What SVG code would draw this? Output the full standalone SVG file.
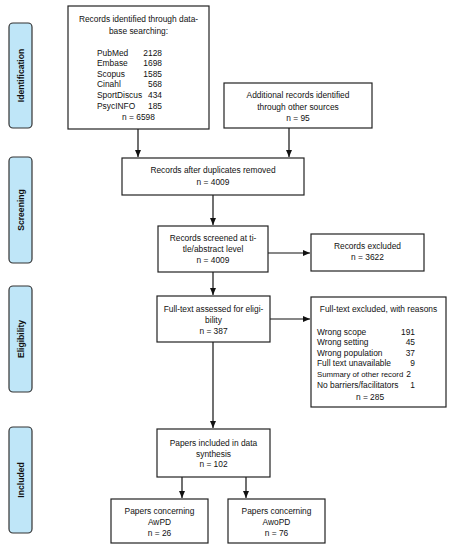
<svg xmlns="http://www.w3.org/2000/svg" width="450" height="550" viewBox="0 0 450 550">
<style>
.box{fill:#fff;stroke:#222;stroke-width:1.2}
.side{fill:#bfe6f8;stroke:#333;stroke-width:1.2}
text{font-family:"Liberation Sans",Arial,sans-serif;font-size:8.4px;fill:#111}
.c{text-anchor:middle}
.r{text-anchor:end}
.s{font-weight:bold;font-size:8.6px;text-anchor:middle}
.ln{stroke:#111;stroke-width:1.2;fill:none}
</style>
<defs>
<marker id="ah" markerWidth="8" markerHeight="8" refX="7" refY="4" orient="auto" markerUnits="userSpaceOnUse">
<path d="M0,1 L7,4 L0,7 Z" fill="#111"/>
</marker>
</defs>
<rect width="450" height="550" fill="#fff"/>
<g id="phase-identification"><rect class="side" x="9" y="23" width="23" height="105" rx="4"/><text class="s" transform="translate(23.5,75.5) rotate(-90)">Identification</text></g>
<g id="phase-screening"><rect class="side" x="9" y="157" width="23" height="106" rx="4"/><text class="s" transform="translate(23.5,210) rotate(-90)">Screening</text></g>
<g id="phase-eligibility"><rect class="side" x="9" y="286" width="23" height="106" rx="4"/><text class="s" transform="translate(23.5,339) rotate(-90)">Eligibility</text></g>
<g id="phase-included"><rect class="side" x="9" y="427" width="23" height="106" rx="4"/><text class="s" transform="translate(23.5,480) rotate(-90)">Included</text></g>

<g id="connectors">
<line class="ln" x1="138" y1="129" x2="138" y2="157" marker-end="url(#ah)"/>
<line class="ln" x1="289" y1="128" x2="289" y2="157" marker-end="url(#ah)"/>
<line class="ln" x1="213" y1="195" x2="213" y2="225" marker-end="url(#ah)"/>
<line class="ln" x1="268" y1="253" x2="310" y2="253" marker-end="url(#ah)"/>
<line class="ln" x1="213" y1="272" x2="213" y2="295" marker-end="url(#ah)"/>
<line class="ln" x1="270" y1="319" x2="310" y2="319" marker-end="url(#ah)"/>
<line class="ln" x1="213" y1="342" x2="213" y2="428" marker-end="url(#ah)"/>
<line class="ln" x1="182" y1="477" x2="182" y2="498" marker-end="url(#ah)"/>
<line class="ln" x1="246" y1="477" x2="246" y2="498" marker-end="url(#ah)"/>
</g>

<g id="records-identified">
<rect class="box" x="68" y="6" width="141" height="123"/>
<text class="c" x="138.5" y="22">Records identified through data-</text>
<text class="c" x="138.5" y="34">base searching:</text>
<text x="97" y="56">PubMed</text><text class="r" x="162" y="56">2128</text>
<text x="97" y="66">Embase</text><text class="r" x="162" y="66">1698</text>
<text x="97" y="77">Scopus</text><text class="r" x="162" y="77">1585</text>
<text x="97" y="87">Cinahl</text><text class="r" x="162" y="87">568</text>
<text x="97" y="98">SportDiscus</text><text class="r" x="162" y="98">434</text>
<text x="97" y="109">PsycINFO</text><text class="r" x="162" y="109">185</text>
<text class="c" x="138.5" y="120">n = 6598</text>
</g>

<g id="additional-records">
<rect class="box" x="224" y="83" width="148" height="45"/>
<text class="c" x="298" y="98">Additional records identified</text>
<text class="c" x="298" y="110">through other sources</text>
<text class="c" x="298" y="121">n = 95</text>
</g>

<g id="after-duplicates">
<rect class="box" x="122" y="158" width="182" height="37"/>
<text class="c" x="213" y="173">Records after duplicates removed</text>
<text class="c" x="213" y="185">n = 4009</text>
</g>

<g id="screened">
<rect class="box" x="158" y="226" width="110" height="46"/>
<text class="c" x="213" y="241">Records screened at ti-</text>
<text class="c" x="213" y="252">tle/abstract level</text>
<text class="c" x="213" y="263">n = 4009</text>
</g>

<g id="excluded">
<rect class="box" x="311" y="234" width="113" height="37"/>
<text class="c" x="367.5" y="249">Records excluded</text>
<text class="c" x="367.5" y="260">n = 3622</text>
</g>

<g id="full-text-assessed">
<rect class="box" x="157" y="296" width="113" height="46"/>
<text class="c" x="213.5" y="312">Full-text assessed for eligi-</text>
<text class="c" x="213.5" y="323">bility</text>
<text class="c" x="213.5" y="334">n = 387</text>
</g>

<g id="full-text-excluded">
<rect class="box" x="311" y="297" width="135" height="110"/>
<text class="c" x="378.5" y="312">Full-text excluded, with reasons</text>
<text x="317" y="335">Wrong scope</text><text class="r" x="415" y="335">191</text>
<text x="317" y="345">Wrong setting</text><text class="r" x="415" y="345">45</text>
<text x="317" y="356">Wrong population</text><text class="r" x="415" y="356">37</text>
<text x="317" y="366">Full text unavailable</text><text class="r" x="415" y="366">9</text>
<text x="317" y="377" style="font-size:7.8px">Summary of other record</text><text class="r" x="411" y="377">2</text>
<text x="317" y="388">No barriers/facilitators</text><text class="r" x="415" y="388">1</text>
<text class="c" x="370" y="400">n = 285</text>
</g>

<g id="included-synthesis">
<rect class="box" x="157" y="429" width="113" height="48"/>
<text class="c" x="213.5" y="446">Papers included in data</text>
<text class="c" x="213.5" y="457">synthesis</text>
<text class="c" x="213.5" y="467">n = 102</text>
</g>

<g id="awpd">
<rect class="box" x="111" y="499" width="97" height="44"/>
<text class="c" x="159.5" y="514">Papers concerning</text>
<text class="c" x="159.5" y="525">AwPD</text>
<text class="c" x="159.5" y="536">n = 26</text>
</g>

<g id="awopd">
<rect class="box" x="228" y="499" width="97" height="44"/>
<text class="c" x="276.5" y="514">Papers concerning</text>
<text class="c" x="276.5" y="525">AwoPD</text>
<text class="c" x="276.5" y="536">n = 76</text>
</g>
</svg>
